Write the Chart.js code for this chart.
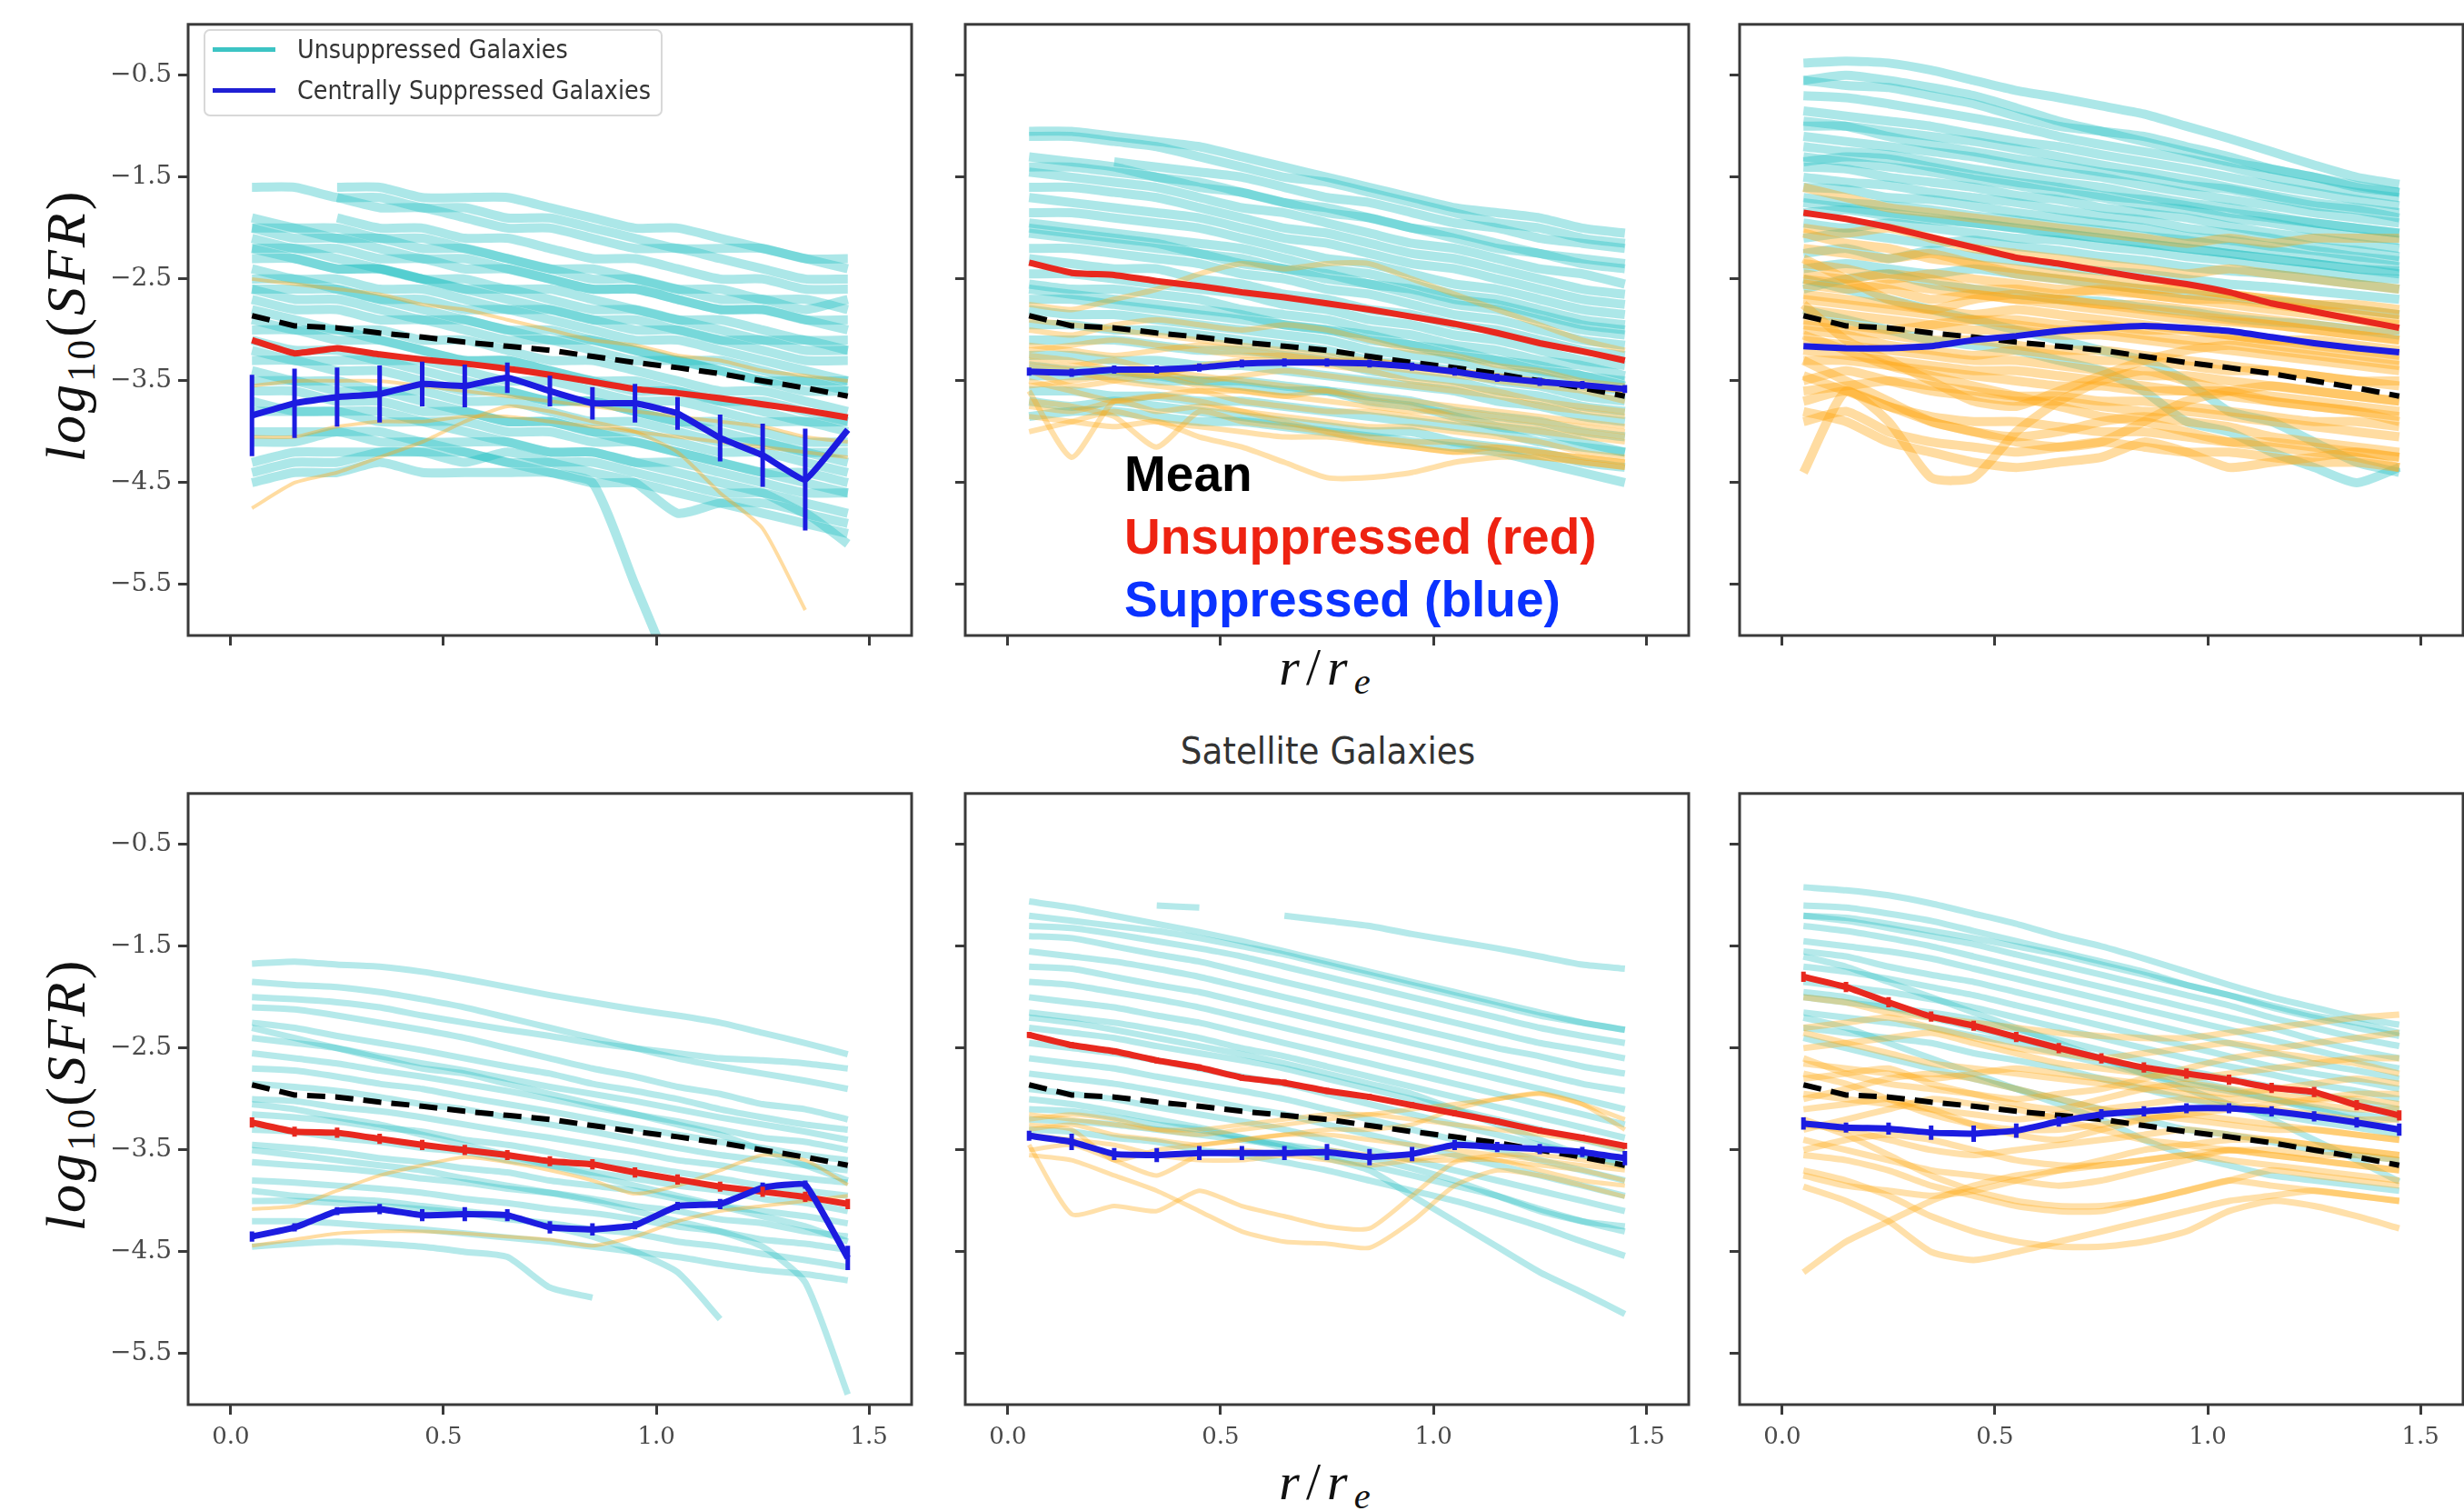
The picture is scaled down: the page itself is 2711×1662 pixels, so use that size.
<!DOCTYPE html>
<html>
<head>
<meta charset="utf-8">
<script src="https://cdn.jsdelivr.net/npm/chart.js@4.4.0/dist/chart.umd.min.js"></script>
<style>
  body { margin: 0; width: 2711px; height: 1662px; overflow: hidden; background: #fff; position: relative; }
  canvas { position: absolute; }
  .ylab { position: absolute; transform: translate(-50%, -50%) rotate(-90deg); font: 62px "Liberation Serif", serif; letter-spacing: 3px; white-space: nowrap; line-height: 1; color: #111; }
  .ylab sub, .xlab sub { font-size: 0.7em; line-height: 0; vertical-align: -0.25em; font-style: normal; }
  .xlab { position: absolute; transform: translateX(-50%); font: 58px "Liberation Serif", serif; letter-spacing: 7px; white-space: nowrap; line-height: 1; color: #111; }
  .title { position: absolute; transform: translateX(-50%) scaleX(0.91); font: 41px "DejaVu Sans", sans-serif; line-height: 1; color: #333; white-space: nowrap; }
  #legend { position: absolute; left: 224px; top: 32px; width: 505px; height: 96px; box-sizing: border-box; border: 2px solid #d8d8d8; border-radius: 7px; background: rgba(255,255,255,0.85); z-index: 2; }
  #legend .row { position: absolute; left: 0; height: 40px; display: flex; align-items: center; white-space: nowrap; }
  #legend .swatch { display: inline-block; margin-left: 8px; width: 69px; height: 5px; }
  #legend .lt { display: inline-block; margin-left: 24px; font: 28px "DejaVu Sans", sans-serif; color: #333; transform: scaleX(0.91); transform-origin: left center; }
  #note { position: absolute; left: 1237px; top: 487px; font: bold 55px "Liberation Sans", Arial, sans-serif; line-height: 69px; z-index: 2; white-space: nowrap; }
</style>
</head>
<body>

<div class="ylab" style="left:72px; top:358px"><i>log</i><sub>10</sub>(<i>SFR</i>)</div>
<div class="ylab" style="left:72px; top:1204px"><i>log</i><sub>10</sub>(<i>SFR</i>)</div>
<div class="xlab" style="left:1461px; top:705px"><i>r</i>/<i>r</i><sub><i>e</i></sub></div>
<div class="xlab" style="left:1461px; top:1601px"><i>r</i>/<i>r</i><sub><i>e</i></sub></div>
<div class="title" style="left:1461px; top:806px">Satellite Galaxies</div>

<div id="legend">
  <div class="row" style="top:0px"><span class="swatch" style="background:#3cc4c4"></span><span class="lt">Unsuppressed Galaxies</span></div>
  <div class="row" style="top:45px"><span class="swatch" style="background:#2020d4"></span><span class="lt">Centrally Suppressed Galaxies</span></div>
</div>

<div id="note">
  <div style="color:#000">Mean</div>
  <div style="color:#ee2211">Unsuppressed (red)</div>
  <div style="color:#0a32ff">Suppressed (blue)</div>
</div>

<script>
// radial bins (r / r_e) shared by every profile
const radii = [0.05, 0.15, 0.25, 0.35, 0.45, 0.55, 0.65, 0.75, 0.85, 0.95, 1.05, 1.15, 1.25, 1.35, 1.45];
const xTicks = [0.0, 0.5, 1.0, 1.5];
const yTicks = [-0.5, -1.5, -2.5, -3.5, -4.5, -5.5];

// overall mean profile (dashed, same in every panel)
const meanProfile = [-2.86, -2.96, -2.98, -3.03, -3.07, -3.12, -3.16, -3.20, -3.26, -3.32, -3.37, -3.43, -3.50, -3.57, -3.65];

// ---- top left ----
const topLeftRed = [-3.10, -3.23, -3.18, -3.24, -3.29, -3.33, -3.38, -3.44, -3.51, -3.58, -3.62, -3.67, -3.73, -3.79, -3.86];
const topLeftBlue = [-3.84, -3.72, -3.66, -3.63, -3.53, -3.55, -3.47, -3.60, -3.72, -3.72, -3.82, -4.06, -4.23, -4.47, -3.98];
const topLeftBlueErr = [0.40, 0.34, 0.29, 0.28, 0.22, 0.21, 0.15, 0.15, 0.16, 0.19, 0.16, 0.23, 0.31, 0.50, 0];
const topLeftCyan = [
  [-1.6,-1.6,-1.7,-1.7,-1.8,-1.8,-1.9,-1.9,-2.0,-2.1,-2.2,-2.2,-2.2,-2.3,-2.3],
  [null,null,-1.6,-1.6,-1.7,-1.7,-1.7,-1.8,-1.9,-2.0,-2.0,-2.1,-2.2,-2.3,-2.4],
  [null,null,-1.7,-1.8,-1.8,-1.9,-2.0,-2.0,-2.1,-2.2,-2.2,-2.3,-2.4,-2.5,-2.5],
  [null,null,-1.9,-2.0,-2.0,-2.1,-2.1,-2.2,-2.3,-2.3,-2.4,-2.5,-2.5,-2.6,-2.6],
  [-1.9,-2.0,-2.1,-2.1,-2.2,-2.2,-2.3,-2.4,-2.5,-2.5,-2.6,-2.7,-2.7,-2.8,-2.7],
  [-2.0,-2.0,-2.0,-2.1,-2.1,-2.2,-2.3,-2.4,-2.4,-2.5,-2.6,-2.6,-2.7,-2.7,-2.8],
  [-2.0,-2.1,-2.1,-2.2,-2.3,-2.3,-2.4,-2.5,-2.6,-2.6,-2.7,-2.8,-2.8,-2.9,-3.0],
  [-2.1,-2.2,-2.2,-2.3,-2.3,-2.4,-2.4,-2.5,-2.6,-2.6,-2.7,-2.8,-2.8,-2.9,-2.9],
  [-2.2,-2.2,-2.3,-2.4,-2.5,-2.5,-2.6,-2.6,-2.7,-2.8,-2.9,-2.9,-3.0,-3.1,-3.1],
  [-2.2,-2.3,-2.4,-2.4,-2.5,-2.6,-2.7,-2.8,-2.9,-2.9,-3.0,-3.1,-3.1,-3.2,-3.2],
  [-2.3,-2.3,-2.4,-2.4,-2.5,-2.6,-2.6,-2.7,-2.8,-2.8,-2.9,-3.0,-3.1,-3.1,-3.2],
  [-2.4,-2.5,-2.5,-2.6,-2.6,-2.7,-2.8,-2.8,-2.9,-3.0,-3.0,-3.1,-3.2,-3.3,-3.3],
  [-2.5,-2.5,-2.6,-2.7,-2.7,-2.8,-2.8,-2.9,-3.0,-3.1,-3.1,-3.2,-3.3,-3.4,-3.5],
  [-2.6,-2.6,-2.6,-2.7,-2.8,-2.9,-3.0,-3.1,-3.1,-3.2,-3.3,-3.4,-3.5,-3.5,-3.6],
  [-2.6,-2.7,-2.7,-2.8,-2.9,-2.9,-3.0,-3.0,-3.1,-3.2,-3.3,-3.3,-3.4,-3.5,-3.5],
  [-2.7,-2.8,-2.8,-2.9,-2.9,-3.0,-3.1,-3.1,-3.2,-3.3,-3.3,-3.4,-3.5,-3.6,-3.6],
  [-2.8,-2.9,-3.0,-3.0,-3.1,-3.1,-3.2,-3.3,-3.3,-3.4,-3.5,-3.6,-3.6,-3.7,-3.8],
  [-2.9,-3.0,-3.0,-3.1,-3.2,-3.3,-3.3,-3.4,-3.5,-3.6,-3.6,-3.7,-3.8,-3.9,-3.9],
  [-3.0,-3.0,-3.1,-3.1,-3.2,-3.3,-3.3,-3.4,-3.5,-3.5,-3.6,-3.7,-3.7,-3.8,-3.9],
  [-3.1,-3.2,-3.2,-3.3,-3.3,-3.4,-3.5,-3.5,-3.6,-3.7,-3.7,-3.8,-3.9,-3.9,-4.0],
  [-3.2,-3.3,-3.3,-3.3,-3.4,-3.5,-3.6,-3.7,-3.7,-3.8,-3.9,-4.0,-4.1,-4.2,-4.2],
  [-3.3,-3.3,-3.4,-3.4,-3.5,-3.6,-3.6,-3.7,-3.7,-3.8,-3.9,-3.9,-4.0,-4.1,-4.1],
  [-3.4,-3.5,-3.5,-3.6,-3.6,-3.7,-3.7,-3.8,-3.9,-3.9,-4.0,-4.1,-4.1,-4.2,-4.3],
  [-3.5,-3.5,-3.6,-3.6,-3.7,-3.8,-3.9,-3.9,-4.0,-4.1,-4.2,-4.3,-4.4,-4.5,-4.6],
  [-3.6,-3.6,-3.7,-3.7,-3.8,-3.8,-3.9,-3.9,-4.0,-4.0,-4.1,-4.2,-4.2,-4.3,-4.4],
  [-3.7,-3.8,-3.8,-3.8,-3.9,-4.0,-4.1,-4.2,-4.2,-4.3,-4.4,-4.5,-4.6,-4.8,-4.9],
  [-3.8,-3.8,-3.8,-3.9,-3.9,-3.9,-4.0,-4.0,-4.1,-4.1,-4.2,-4.3,-4.4,-4.4,-4.5],
  [-4.0,-4.0,-4.0,-4.0,-4.1,-4.1,-4.1,-4.2,-4.2,-4.3,-4.3,-4.4,-4.5,-4.6,-4.6],
  [-4.1,-4.1,-4.0,-4.1,-4.1,-4.2,-4.3,-4.4,-4.5,-5.5,-6.5,null,null,null,null],
  [-4.3,-4.2,-4.2,-4.2,-4.2,-4.2,-4.3,-4.3,-4.3,-4.4,-4.5,-4.6,-4.6,-4.7,-4.8],
  [-4.4,-4.3,-4.3,-4.2,-4.2,-4.3,-4.2,-4.3,-4.4,-4.5,-4.8,-4.7,-4.7,-4.8,-5.1],
  [-4.5,-4.4,-4.4,-4.3,-4.4,-4.4,-4.4,-4.4,-4.5,-4.5,-4.6,-4.7,-4.8,-4.9,-5.0]
];
const topLeftOrange = [
  [-4.75,-4.5,-4.4,-4.25,-4.1,-3.9,-3.75,-3.8,-3.9,-4.0,-4.2,-4.6,-4.95,-5.75,null],
  [-2.5,-2.55,-2.6,-2.65,-2.75,-2.8,-2.9,-3.0,-3.1,-3.15,-3.25,-3.3,-3.4,-3.45,-3.5],
  [-3.55,-3.5,-3.5,-3.5,-3.55,-3.6,-3.65,-3.7,-3.75,-3.8,-3.85,-3.9,-3.95,-4.05,-4.1],
  [-4.05,-4.05,-3.95,-3.9,-3.9,-3.85,-3.85,-3.9,-3.95,-4.0,-4.05,-4.1,-4.15,-4.2,-4.25]
];

// ---- top middle ----
const topMidRed = [-2.34, -2.44, -2.46, -2.52, -2.57, -2.63, -2.68, -2.74, -2.80, -2.87, -2.94, -3.03, -3.13, -3.21, -3.30];
const topMidBlue = [-3.41, -3.42, -3.39, -3.39, -3.37, -3.33, -3.32, -3.32, -3.33, -3.36, -3.41, -3.47, -3.51, -3.54, -3.58];
const topMidBlueErr = [0.04, 0.04, 0.04, 0.04, 0.04, 0.04, 0.04, 0.04, 0.04, 0.04, 0.04, 0.04, 0.04, 0.04, 0.04];
const topMidCyan = [
  [-1.05,-1.05,-1.1,-1.15,-1.2,-1.3,-1.4,-1.5,-1.6,-1.7,-1.8,-1.85,-1.9,-2.0,-2.05],
  [-1.1,-1.1,-1.15,-1.2,-1.3,-1.4,-1.5,-1.55,-1.65,-1.75,-1.85,-1.95,-2.0,-2.1,-2.15],
  [null,null,-1.35,-1.4,-1.45,-1.5,-1.6,-1.7,-1.75,-1.85,-1.95,-2.0,-2.1,-2.15,-2.2],
  [-1.3,-1.35,-1.4,-1.5,-1.55,-1.65,-1.75,-1.8,-1.9,-2.0,-2.05,-2.15,-2.25,-2.3,-2.35],
  [-1.4,-1.4,-1.45,-1.5,-1.6,-1.65,-1.75,-1.85,-1.9,-2.0,-2.1,-2.2,-2.25,-2.35,-2.4],
  [-1.45,-1.5,-1.55,-1.6,-1.7,-1.8,-1.85,-1.95,-2.05,-2.15,-2.2,-2.3,-2.4,-2.45,-2.55],
  [-1.6,-1.6,-1.65,-1.7,-1.8,-1.9,-2.0,-2.05,-2.15,-2.25,-2.3,-2.4,-2.5,-2.6,-2.65],
  [-1.7,-1.75,-1.8,-1.85,-1.9,-2.0,-2.1,-2.15,-2.25,-2.35,-2.4,-2.5,-2.6,-2.7,-2.75],
  [-1.85,-1.85,-1.9,-1.95,-2.0,-2.1,-2.2,-2.3,-2.35,-2.45,-2.55,-2.6,-2.7,-2.8,-2.85],
  [-1.95,-2.0,-2.05,-2.1,-2.15,-2.2,-2.3,-2.4,-2.45,-2.55,-2.65,-2.7,-2.8,-2.9,-2.95],
  [-2.0,-2.05,-2.1,-2.15,-2.25,-2.3,-2.4,-2.45,-2.55,-2.6,-2.7,-2.75,-2.85,-2.95,-3.0],
  [-2.05,-2.1,-2.15,-2.2,-2.25,-2.35,-2.4,-2.5,-2.55,-2.65,-2.75,-2.8,-2.9,-3.0,-3.05],
  [-2.2,-2.2,-2.25,-2.3,-2.35,-2.45,-2.5,-2.6,-2.65,-2.75,-2.85,-2.9,-3.0,-3.1,-3.15],
  [-2.3,-2.35,-2.4,-2.4,-2.5,-2.55,-2.65,-2.7,-2.8,-2.85,-2.95,-3.0,-3.1,-3.2,-3.25],
  [-2.45,-2.45,-2.5,-2.55,-2.6,-2.65,-2.75,-2.8,-2.9,-2.95,-3.05,-3.1,-3.2,-3.3,-3.35],
  [-2.55,-2.6,-2.6,-2.65,-2.7,-2.8,-2.85,-2.9,-3.0,-3.05,-3.15,-3.2,-3.3,-3.35,-3.45],
  [-2.6,-2.65,-2.7,-2.75,-2.8,-2.85,-2.95,-3.0,-3.05,-3.15,-3.2,-3.3,-3.35,-3.45,-3.5],
  [-2.7,-2.7,-2.75,-2.8,-2.85,-2.9,-2.95,-3.0,-3.1,-3.15,-3.25,-3.3,-3.4,-3.45,-3.55],
  [-2.8,-2.85,-2.85,-2.9,-2.95,-3.0,-3.05,-3.1,-3.2,-3.25,-3.3,-3.4,-3.45,-3.55,-3.6],
  [-2.95,-2.95,-3.0,-3.0,-3.05,-3.1,-3.15,-3.2,-3.3,-3.35,-3.4,-3.5,-3.55,-3.65,-3.7],
  [-3.1,-3.1,-3.1,-3.15,-3.2,-3.2,-3.25,-3.3,-3.4,-3.45,-3.5,-3.6,-3.65,-3.75,-3.8],
  [-3.25,-3.25,-3.3,-3.3,-3.35,-3.35,-3.4,-3.45,-3.5,-3.55,-3.6,-3.7,-3.75,-3.85,-3.9],
  [-3.35,-3.4,-3.4,-3.45,-3.5,-3.5,-3.55,-3.6,-3.7,-3.75,-3.85,-3.95,-4.0,-4.1,-4.2],
  [-3.45,-3.45,-3.45,-3.5,-3.5,-3.55,-3.6,-3.6,-3.65,-3.7,-3.8,-3.85,-3.9,-4.0,-4.05],
  [-3.6,-3.6,-3.65,-3.65,-3.7,-3.7,-3.75,-3.8,-3.85,-3.9,-3.95,-4.0,-4.1,-4.15,-4.2],
  [-3.7,-3.75,-3.7,-3.75,-3.8,-3.85,-3.9,-3.95,-4.0,-4.0,-4.1,-4.15,-4.2,-4.3,-4.35],
  [-3.85,-3.8,-3.8,-3.85,-3.9,-3.9,-3.95,-4.0,-4.05,-4.1,-4.15,-4.2,-4.3,-4.4,-4.5]
];
const topMidOrange = [
  [-2.75,-2.8,-2.7,-2.6,-2.45,-2.35,-2.4,-2.35,-2.35,-2.5,-2.65,-2.8,-2.95,-3.1,-3.2],
  [-2.9,-2.95,-3.0,-3.05,-3.1,-3.15,-3.2,-3.25,-3.3,-3.35,-3.4,-3.45,-3.5,-3.55,-3.6],
  [-3.0,-3.05,-2.95,-2.9,-2.95,-3.0,-2.95,-3.0,-3.1,-3.2,-3.25,-3.35,-3.4,-3.5,-3.55],
  [-3.15,-3.2,-3.25,-3.2,-3.15,-3.2,-3.25,-3.3,-3.35,-3.4,-3.45,-3.5,-3.55,-3.6,-3.7],
  [-3.2,-3.15,-3.1,-3.15,-3.2,-3.25,-3.25,-3.3,-3.3,-3.35,-3.4,-3.45,-3.5,-3.55,-3.6],
  [-3.25,-3.3,-3.4,-3.45,-3.35,-3.3,-3.3,-3.35,-3.4,-3.5,-3.55,-3.6,-3.7,-3.75,-3.8],
  [-3.3,-3.35,-3.3,-3.4,-3.5,-3.45,-3.4,-3.45,-3.5,-3.55,-3.6,-3.65,-3.75,-3.8,-3.85],
  [-3.35,-3.4,-3.5,-3.55,-3.6,-3.6,-3.65,-3.7,-3.75,-3.8,-3.8,-3.85,-3.9,-3.95,-4.0],
  [-3.4,-3.55,-3.5,-3.45,-3.55,-3.6,-3.65,-3.6,-3.65,-3.7,-3.75,-3.8,-3.85,-3.9,-3.95],
  [-3.5,-3.6,-3.7,-3.65,-3.6,-3.7,-3.75,-3.8,-3.8,-3.85,-3.9,-3.95,-4.0,-4.05,-4.1],
  [-3.55,-3.5,-3.45,-3.4,-3.45,-3.5,-3.55,-3.6,-3.7,-3.75,-3.85,-3.9,-3.95,-4.0,-4.05],
  [-3.6,-4.25,-3.7,-3.8,-3.75,-3.8,-3.85,-3.9,-3.95,-3.95,-4.0,-4.05,-4.1,-4.2,-4.25],
  [-3.7,-3.75,-3.85,-4.15,-3.8,-3.9,-3.95,-4.0,-4.05,-4.1,-4.1,-4.15,-4.2,-4.25,-4.3],
  [-3.75,-3.8,-3.7,-3.65,-3.7,-3.8,-3.9,-4.0,-4.1,-4.15,-4.2,-4.15,-4.2,-4.25,-4.3],
  [-3.85,-3.9,-3.95,-3.9,-4.05,-4.15,-4.3,-4.45,-4.45,-4.4,-4.3,-4.25,-4.25,-4.3,-4.35],
  [-4.0,-3.9,-3.8,-3.9,-3.95,-4.0,-4.05,-4.05,-4.1,-4.15,-4.2,-4.2,-4.25,-4.3,-4.35]
];

// ---- top right ----
const topRightRed = [-1.85, -1.91, -1.99, -2.09, -2.19, -2.29, -2.35, -2.42, -2.49, -2.55, -2.63, -2.74, -2.82, -2.90, -2.98];
const topRightBlue = [-3.16, -3.18, -3.18, -3.16, -3.10, -3.06, -3.01, -2.98, -2.96, -2.98, -3.01, -3.07, -3.13, -3.18, -3.22];
const topRightCyan = [
  [-0.38,-0.36,-0.38,-0.45,-0.55,-0.65,-0.72,-0.8,-0.88,-1.0,-1.12,-1.25,-1.38,-1.5,-1.57],
  [-0.55,-0.5,-0.55,-0.62,-0.7,-0.82,-0.95,-1.05,-1.15,-1.25,-1.35,-1.42,-1.5,-1.6,-1.65],
  [-0.55,-0.6,-0.62,-0.7,-0.78,-0.9,-1.0,-1.05,-1.1,-1.2,-1.3,-1.42,-1.5,-1.58,-1.65],
  [-0.7,-0.72,-0.78,-0.85,-0.92,-1.0,-1.1,-1.18,-1.25,-1.32,-1.4,-1.5,-1.58,-1.65,-1.7],
  [-0.85,-0.9,-0.95,-1.0,-1.08,-1.15,-1.2,-1.28,-1.35,-1.42,-1.5,-1.58,-1.65,-1.72,-1.78],
  [-0.95,-1.0,-1.1,-1.18,-1.25,-1.32,-1.38,-1.45,-1.5,-1.58,-1.62,-1.7,-1.78,-1.82,-1.9],
  [-1.0,-1.0,-1.05,-1.1,-1.15,-1.22,-1.3,-1.38,-1.45,-1.52,-1.6,-1.68,-1.75,-1.8,-1.85],
  [-1.1,-1.15,-1.2,-1.25,-1.3,-1.38,-1.45,-1.5,-1.58,-1.65,-1.72,-1.78,-1.85,-1.9,-1.95],
  [-1.2,-1.25,-1.28,-1.35,-1.42,-1.48,-1.55,-1.6,-1.68,-1.75,-1.8,-1.88,-1.95,-2.0,-2.05],
  [-1.3,-1.35,-1.4,-1.45,-1.52,-1.58,-1.65,-1.7,-1.78,-1.82,-1.9,-1.95,-2.02,-2.08,-2.12],
  [-1.35,-1.3,-1.32,-1.4,-1.48,-1.55,-1.6,-1.68,-1.72,-1.78,-1.85,-1.9,-1.95,-2.0,-2.05],
  [-1.4,-1.42,-1.5,-1.55,-1.6,-1.68,-1.72,-1.8,-1.85,-1.9,-1.98,-2.05,-2.1,-2.15,-2.2],
  [-1.5,-1.55,-1.58,-1.65,-1.7,-1.75,-1.82,-1.88,-1.92,-2.0,-2.05,-2.1,-2.18,-2.22,-2.28],
  [-1.6,-1.62,-1.7,-1.72,-1.78,-1.85,-1.9,-1.95,-2.0,-2.08,-2.12,-2.18,-2.22,-2.28,-2.32],
  [-1.7,-1.75,-1.78,-1.82,-1.88,-1.92,-1.98,-2.02,-2.08,-2.12,-2.18,-2.22,-2.28,-2.32,-2.38],
  [-1.75,-1.8,-1.85,-1.9,-1.95,-2.0,-2.05,-2.1,-2.15,-2.2,-2.25,-2.3,-2.35,-2.4,-2.42],
  [-1.85,-1.82,-1.88,-1.92,-1.95,-2.0,-2.05,-2.1,-2.15,-2.2,-2.25,-2.3,-2.35,-2.4,-2.45],
  [-1.95,-2.0,-1.95,-2.0,-2.05,-2.1,-2.12,-2.18,-2.22,-2.28,-2.32,-2.38,-2.42,-2.48,-2.5],
  [-2.1,-2.05,-2.1,-2.15,-2.12,-2.18,-2.22,-2.28,-2.32,-2.38,-2.42,-2.45,-2.5,-2.55,-2.6],
  [-2.25,-2.2,-2.3,-2.22,-2.28,-2.32,-2.38,-2.42,-2.45,-2.5,-2.55,-2.58,-2.62,-2.66,-2.7],
  [-2.4,-2.35,-2.4,-2.45,-2.4,-2.45,-2.5,-2.55,-2.6,-2.65,-2.68,-2.72,-2.75,-2.8,-2.85],
  [-2.6,-2.5,-2.45,-2.55,-2.6,-2.65,-2.7,-2.72,-2.78,-2.82,-2.88,-2.92,-2.95,-3.0,-3.05],
  [-2.5,-2.6,-2.7,-2.8,-2.9,-3.0,-3.1,-3.2,-3.3,-3.5,-3.8,-3.9,-4.1,-4.3,-4.4],
  [-2.8,-2.9,-3.0,-3.1,-3.15,-3.2,-3.3,-3.4,-3.6,-3.9,-4.0,-4.2,-4.35,-4.5,-4.35]
];
const topRightOrange = [
  [-1.6,-1.7,-1.8,-1.85,-1.9,-1.95,-2.0,-2.05,-2.1,-2.15,-2.1,-2.15,-2.1,-2.1,-2.1],
  [-2.0,-2.05,-2.0,-2.1,-2.2,-2.25,-2.3,-2.35,-2.4,-2.45,-2.4,-2.45,-2.5,-2.55,-2.6],
  [-2.05,-2.15,-2.2,-2.3,-2.35,-2.45,-2.5,-2.55,-2.6,-2.6,-2.65,-2.7,-2.75,-2.75,-2.8],
  [-2.2,-2.25,-2.3,-2.25,-2.35,-2.4,-2.45,-2.5,-2.55,-2.6,-2.65,-2.7,-2.75,-2.8,-2.85],
  [-2.3,-2.5,-2.7,-2.8,-2.7,-2.65,-2.7,-2.75,-2.8,-2.85,-2.9,-2.95,-3.0,-3.05,-3.1],
  [-2.35,-2.4,-2.5,-2.45,-2.5,-2.55,-2.6,-2.62,-2.65,-2.7,-2.75,-2.8,-2.85,-2.9,-2.95],
  [-2.45,-2.5,-2.45,-2.5,-2.6,-2.6,-2.65,-2.6,-2.65,-2.7,-2.7,-2.75,-2.8,-2.85,-2.9],
  [-2.5,-2.55,-2.6,-2.7,-2.65,-2.7,-2.75,-2.8,-2.85,-2.9,-2.92,-2.95,-3.0,-3.05,-3.1],
  [-2.55,-2.6,-2.55,-2.6,-2.65,-2.7,-2.7,-2.75,-2.75,-2.8,-2.85,-2.9,-2.95,-3.0,-3.0],
  [-2.65,-2.7,-2.75,-2.8,-2.85,-2.8,-2.85,-2.9,-2.95,-3.0,-3.05,-3.1,-3.15,-3.2,-3.25],
  [-2.7,-2.75,-2.8,-2.85,-2.9,-2.9,-2.95,-2.95,-3.0,-3.0,-3.05,-3.1,-3.1,-3.15,-3.2],
  [-2.75,-3.1,-3.3,-3.5,-3.7,-3.75,-3.6,-3.45,-3.3,-3.2,-3.15,-3.2,-3.25,-3.3,-3.35],
  [-2.8,-2.85,-2.9,-2.95,-3.0,-3.0,-3.05,-3.05,-3.1,-3.15,-3.2,-3.25,-3.3,-3.35,-3.4],
  [-2.9,-2.95,-3.0,-2.95,-2.9,-2.95,-3.0,-3.0,-3.05,-3.1,-3.1,-3.15,-3.2,-3.25,-3.3],
  [-2.95,-3.0,-3.05,-3.1,-3.1,-3.15,-3.2,-3.2,-3.25,-3.3,-3.35,-3.4,-3.45,-3.5,-3.55],
  [-3.0,-3.05,-3.15,-3.2,-3.25,-3.2,-3.25,-3.3,-3.3,-3.35,-3.4,-3.4,-3.45,-3.5,-3.5],
  [-3.05,-3.2,-3.35,-3.45,-3.55,-3.65,-3.75,-3.85,-3.9,-4.0,-4.1,-4.15,-4.2,-4.25,-4.35],
  [-3.1,-3.15,-3.2,-3.25,-3.3,-3.3,-3.35,-3.4,-3.45,-3.45,-3.5,-3.55,-3.6,-3.65,-3.7],
  [-3.2,-3.25,-3.3,-3.35,-3.4,-3.4,-3.45,-3.5,-3.55,-3.6,-3.6,-3.65,-3.7,-3.75,-3.8],
  [-3.3,-3.3,-3.35,-3.4,-3.45,-3.5,-3.55,-3.55,-3.6,-3.6,-3.65,-3.7,-3.75,-3.8,-3.85],
  [-3.3,-3.5,-3.7,-3.9,-4.0,-4.1,-4.15,-4.1,-3.9,-3.7,-3.6,-3.55,-3.6,-3.65,-3.7],
  [-3.45,-3.6,-3.75,-3.9,-4.0,-4.05,-4.0,-3.9,-3.85,-3.9,-3.95,-4.05,-4.1,-4.15,-4.2],
  [-3.5,-3.4,-3.5,-3.6,-3.65,-3.7,-3.7,-3.75,-3.8,-3.8,-3.85,-3.9,-3.95,-4.0,-4.05],
  [-3.6,-3.55,-3.5,-3.55,-3.6,-3.65,-3.65,-3.7,-3.7,-3.75,-3.8,-3.85,-3.9,-3.9,-3.95],
  [-3.7,-3.6,-3.75,-3.85,-3.9,-3.9,-3.95,-4.0,-4.0,-4.05,-4.1,-4.1,-4.15,-4.2,-4.25],
  [-3.8,-3.9,-4.1,-4.2,-4.3,-4.35,-4.3,-4.25,-4.1,-4.2,-4.35,-4.3,-4.25,-4.2,-4.25],
  [-3.9,-3.8,-4.0,-4.1,-4.15,-4.2,-4.15,-4.1,-4.15,-4.2,-4.2,-4.25,-4.3,-4.3,-4.35],
  [-4.4,-3.6,-3.9,-4.45,-4.45,-4.0,-3.7,-3.5,-3.4,-3.5,-3.6,-3.7,-3.75,-3.8,-3.9]
];

// ---- bottom left ----
const bottomLeftRed = [-3.23, -3.32, -3.33, -3.39, -3.45, -3.50, -3.55, -3.61, -3.64, -3.72, -3.79, -3.86, -3.91, -3.96, -4.03];
const bottomLeftRedErr = [0.05, 0.05, 0.05, 0.05, 0.05, 0.05, 0.05, 0.05, 0.05, 0.05, 0.05, 0.05, 0.05, 0.05, 0.05];
const bottomLeftBlue = [-4.35, -4.26, -4.10, -4.08, -4.14, -4.13, -4.14, -4.26, -4.28, -4.24, -4.05, -4.03, -3.87, -3.84, -4.56];
const bottomLeftBlueErr = [0.05, 0.04, 0.04, 0.05, 0.06, 0.07, 0.06, 0.06, 0.06, 0.04, 0.04, 0.05, 0.05, 0.04, 0.12];
const bottomLeftCyan = [
  [-1.67,-1.65,-1.68,-1.7,-1.75,-1.82,-1.9,-1.98,-2.05,-2.12,-2.18,-2.25,-2.35,-2.45,-2.56],
  [-1.85,-1.88,-1.9,-1.95,-2.02,-2.1,-2.2,-2.3,-2.4,-2.5,-2.6,-2.68,-2.75,-2.82,-2.9],
  [-2.0,-2.02,-2.05,-2.1,-2.18,-2.25,-2.32,-2.38,-2.45,-2.5,-2.55,-2.6,-2.62,-2.65,-2.7],
  [-2.1,-2.12,-2.18,-2.25,-2.32,-2.4,-2.5,-2.6,-2.7,-2.78,-2.88,-2.95,-3.05,-3.1,-3.2],
  [-2.25,-2.3,-2.38,-2.45,-2.52,-2.6,-2.68,-2.75,-2.85,-2.92,-3.0,-3.1,-3.18,-3.25,-3.3],
  [-2.3,-2.4,-2.5,-2.6,-2.7,-2.75,-2.85,-2.95,-3.05,-3.15,-3.25,-3.35,-3.5,-3.65,-3.8],
  [-2.4,-2.45,-2.5,-2.58,-2.65,-2.72,-2.8,-2.88,-2.95,-3.02,-3.1,-3.18,-3.25,-3.32,-3.4],
  [-2.55,-2.6,-2.65,-2.72,-2.78,-2.85,-2.92,-3.0,-3.08,-3.15,-3.22,-3.3,-3.38,-3.42,-3.5],
  [-2.7,-2.72,-2.78,-2.85,-2.9,-2.98,-3.05,-3.12,-3.2,-3.28,-3.35,-3.42,-3.48,-3.55,-3.6],
  [-2.85,-2.88,-2.92,-2.98,-3.05,-3.1,-3.18,-3.25,-3.32,-3.4,-3.48,-3.55,-3.6,-3.65,-3.7],
  [-3.0,-3.02,-3.08,-3.12,-3.18,-3.25,-3.32,-3.38,-3.45,-3.52,-3.6,-3.65,-3.72,-3.78,-3.82],
  [-3.05,-3.1,-3.18,-3.25,-3.35,-3.45,-3.55,-3.65,-3.75,-3.85,-3.95,-4.05,-4.15,-4.25,-4.4],
  [-3.15,-3.18,-3.22,-3.28,-3.32,-3.4,-3.45,-3.52,-3.6,-3.65,-3.72,-3.78,-3.85,-3.9,-3.95],
  [-3.3,-3.32,-3.38,-3.42,-3.48,-3.52,-3.6,-3.65,-3.72,-3.78,-3.85,-3.9,-3.98,-4.02,-4.1],
  [-3.45,-3.48,-3.52,-3.58,-3.62,-3.68,-3.72,-3.8,-3.85,-3.9,-3.98,-4.05,-4.1,-4.15,-4.22],
  [-3.5,-3.55,-3.6,-3.65,-3.7,-3.78,-3.85,-3.92,-4.0,-4.1,-4.2,-4.3,-4.45,-4.8,-5.9],
  [-3.62,-3.65,-3.68,-3.72,-3.78,-3.82,-3.88,-3.92,-3.98,-4.05,-4.1,-4.18,-4.22,-4.3,-4.35],
  [-3.8,-3.82,-3.85,-3.88,-3.92,-3.98,-4.02,-4.08,-4.12,-4.18,-4.25,-4.3,-4.38,-4.42,-4.48],
  [-3.9,-3.95,-3.98,-4.0,-4.05,-4.1,-4.15,-4.25,-4.35,-4.5,-4.7,-5.16,null,null,null],
  [-4.0,-4.0,-4.02,-4.05,-4.08,-4.12,-4.18,-4.22,-4.28,-4.32,-4.4,-4.45,-4.52,-4.58,-4.65],
  [-4.2,-4.2,-4.22,-4.25,-4.28,-4.32,-4.36,-4.4,-4.45,-4.5,-4.55,-4.62,-4.68,-4.72,-4.78],
  [-4.45,-4.42,-4.4,-4.42,-4.45,-4.5,-4.55,-4.85,-4.95,null,null,null,null,null,null]
];
const bottomLeftOrange = [
  [-4.08,-4.05,-3.9,-3.75,-3.65,-3.57,-3.62,-3.7,-3.8,-3.93,-3.85,-3.7,-3.55,-3.6,-3.84],
  [-4.44,-4.38,-4.32,-4.3,-4.3,-4.32,-4.35,-4.38,-4.44,-4.35,-4.2,-4.1,-4.05,-4.0,-3.95]
];

// ---- bottom middle: satellite galaxies ----
const bottomMidRed = [-2.37, -2.47, -2.53, -2.62, -2.69, -2.79, -2.84, -2.92, -2.98, -3.06, -3.14, -3.22, -3.31, -3.38, -3.46];
const bottomMidRedErr = [0.03, 0.03, 0.03, 0.03, 0.03, 0.03, 0.03, 0.03, 0.03, 0.03, 0.03, 0.03, 0.03, 0.03, 0.03];
const bottomMidBlue = [-3.36, -3.42, -3.54, -3.55, -3.53, -3.53, -3.53, -3.52, -3.57, -3.54, -3.45, -3.47, -3.49, -3.52, -3.58];
const bottomMidBlueErr = [0.05, 0.08, 0.06, 0.07, 0.07, 0.07, 0.07, 0.08, 0.08, 0.07, 0.05, 0.05, 0.05, 0.05, 0.07];
const bottomMidCyan = [
  [-1.06,-1.12,-1.2,-1.28,-1.36,-1.45,-1.55,-1.65,-1.75,-1.85,-1.95,-2.05,-2.15,-2.25,-2.32],
  [null,null,null,null,null,null,-1.2,-1.25,-1.3,-1.38,-1.45,-1.52,-1.6,-1.68,-1.72],
  [null,null,null,-1.1,-1.12,null,null,null,null,null,null,null,null,null,null],
  [-1.2,-1.25,-1.3,-1.35,-1.42,-1.5,-1.58,-1.68,-1.78,-1.88,-1.98,-2.08,-2.18,-2.25,-2.32],
  [-1.3,-1.32,-1.38,-1.45,-1.52,-1.6,-1.7,-1.8,-1.9,-2.0,-2.1,-2.2,-2.3,-2.38,-2.45],
  [-1.4,-1.42,-1.5,-1.58,-1.65,-1.75,-1.85,-1.95,-2.05,-2.15,-2.25,-2.35,-2.45,-2.52,-2.6],
  [-1.55,-1.6,-1.65,-1.72,-1.8,-1.9,-2.0,-2.1,-2.2,-2.3,-2.4,-2.5,-2.58,-2.68,-2.75],
  [-1.7,-1.72,-1.8,-1.88,-1.95,-2.05,-2.15,-2.25,-2.35,-2.45,-2.55,-2.65,-2.75,-2.85,-2.92],
  [-1.85,-1.88,-1.95,-2.02,-2.1,-2.2,-2.3,-2.4,-2.5,-2.6,-2.7,-2.8,-2.9,-3.0,-3.1],
  [-2.0,-2.05,-2.1,-2.18,-2.25,-2.35,-2.45,-2.55,-2.65,-2.75,-2.85,-2.95,-3.05,-3.15,-3.25],
  [-2.15,-2.2,-2.25,-2.32,-2.4,-2.5,-2.58,-2.68,-2.78,-2.88,-2.98,-3.08,-3.18,-3.28,-3.38],
  [-2.2,-2.25,-2.32,-2.4,-2.48,-2.56,-2.65,-2.75,-2.85,-2.95,-3.1,-3.25,-3.4,-3.55,-3.65],
  [-2.3,-2.35,-2.4,-2.48,-2.55,-2.62,-2.7,-2.8,-2.9,-3.0,-3.1,-3.2,-3.3,-3.4,-3.5],
  [-2.45,-2.5,-2.55,-2.62,-2.7,-2.78,-2.85,-2.95,-3.05,-3.15,-3.25,-3.35,-3.45,-3.55,-3.65],
  [-2.6,-2.65,-2.7,-2.78,-2.85,-2.92,-3.0,-3.1,-3.2,-3.3,-3.4,-3.5,-3.6,-3.7,-3.8],
  [-2.75,-2.8,-2.85,-2.92,-3.0,-3.08,-3.15,-3.25,-3.35,-3.45,-3.55,-3.65,-3.75,-3.85,-3.95],
  [-2.9,-2.95,-3.0,-3.08,-3.15,-3.22,-3.3,-3.4,-3.5,-3.6,-3.7,-3.8,-3.9,-4.0,-4.1],
  [-3.0,-3.05,-3.12,-3.2,-3.28,-3.38,-3.48,-3.58,-3.7,-3.95,-4.2,-4.45,-4.7,-4.9,-5.11],
  [-3.1,-3.12,-3.18,-3.25,-3.3,-3.38,-3.45,-3.55,-3.65,-3.75,-3.85,-3.95,-4.08,-4.2,-4.3],
  [-3.2,-3.22,-3.25,-3.3,-3.35,-3.4,-3.45,-3.5,-3.58,-3.68,-3.8,-3.95,-4.1,-4.2,-4.25],
  [-3.3,-3.32,-3.38,-3.42,-3.5,-3.55,-3.62,-3.7,-3.8,-3.9,-4.0,-4.12,-4.25,-4.4,-4.54]
];
const bottomMidOrange = [
  [-3.15,-3.2,-3.25,-3.3,-3.3,-3.25,-3.2,-3.15,-3.15,-3.2,-3.25,-3.3,-3.35,-3.4,-3.5],
  [-3.2,-3.15,-3.2,-3.3,-3.35,-3.3,-3.25,-3.2,-3.15,-3.1,-3.05,-3.0,-2.95,-3.05,-3.2],
  [-3.25,-3.3,-3.6,-3.5,-3.45,-3.4,-3.35,-3.3,-3.3,-3.25,-3.1,-3.0,-2.94,-3.05,-3.3],
  [-3.3,-3.25,-3.35,-3.4,-3.45,-3.4,-3.35,-3.35,-3.4,-3.45,-3.5,-3.55,-3.6,-3.65,-3.7],
  [-3.35,-3.4,-3.45,-3.55,-3.6,-3.6,-3.55,-3.5,-3.55,-3.6,-3.6,-3.55,-3.55,-3.6,-3.67],
  [-3.45,-4.13,-4.05,-4.1,-3.9,-4.05,-4.15,-4.25,-4.27,-3.95,-3.62,-3.6,-3.7,-3.8,-3.85],
  [-3.5,-3.45,-3.6,-3.75,-3.55,-3.5,-3.55,-3.6,-3.65,-3.6,-3.55,-3.6,-3.65,-3.7,-3.8],
  [-3.55,-3.6,-3.75,-3.9,-4.1,-4.3,-4.4,-4.42,-4.46,-4.2,-3.85,-3.7,-3.75,-3.85,-3.96]
];

// ---- bottom right ----
const bottomRightRed = [-1.80, -1.90, -2.05, -2.19, -2.28, -2.39, -2.50, -2.60, -2.69, -2.75, -2.81, -2.89, -2.93, -3.06, -3.16];
const bottomRightRedErr = [0.05, 0.05, 0.05, 0.05, 0.05, 0.05, 0.05, 0.05, 0.05, 0.05, 0.05, 0.05, 0.05, 0.05, 0.05];
const bottomRightBlue = [-3.24, -3.28, -3.29, -3.33, -3.34, -3.31, -3.22, -3.15, -3.12, -3.09, -3.09, -3.12, -3.17, -3.23, -3.30];
const bottomRightBlueErr = [0.06, 0.05, 0.06, 0.07, 0.08, 0.07, 0.05, 0.05, 0.05, 0.05, 0.05, 0.05, 0.05, 0.05, 0.06];
const bottomRightCyan = [
  [-0.92,-0.95,-1.0,-1.08,-1.18,-1.28,-1.4,-1.5,-1.62,-1.75,-1.88,-2.0,-2.1,-2.2,-2.27],
  [-1.1,-1.12,-1.18,-1.25,-1.35,-1.45,-1.55,-1.65,-1.75,-1.88,-1.98,-2.1,-2.2,-2.3,-2.38],
  [-1.2,-1.22,-1.28,-1.35,-1.42,-1.5,-1.58,-1.68,-1.78,-1.88,-1.98,-2.08,-2.18,-2.25,-2.35],
  [-1.2,-1.25,-1.32,-1.4,-1.48,-1.58,-1.68,-1.78,-1.88,-1.98,-2.08,-2.2,-2.3,-2.4,-2.48],
  [-1.3,-1.35,-1.42,-1.5,-1.6,-1.7,-1.8,-1.9,-2.0,-2.1,-2.2,-2.3,-2.42,-2.52,-2.6],
  [-1.45,-1.5,-1.55,-1.62,-1.72,-1.82,-1.92,-2.02,-2.12,-2.22,-2.32,-2.42,-2.52,-2.62,-2.7],
  [-1.55,-1.6,-1.7,-1.78,-1.85,-1.95,-2.05,-2.15,-2.25,-2.35,-2.45,-2.55,-2.65,-2.72,-2.8],
  [-1.6,-1.7,-1.85,-2.0,-2.15,-2.3,-2.45,-2.6,-2.75,-2.9,-3.05,-3.2,-3.4,-3.6,-3.81],
  [-1.7,-1.75,-1.82,-1.9,-1.98,-2.08,-2.18,-2.28,-2.38,-2.48,-2.58,-2.68,-2.75,-2.82,-2.9],
  [-1.85,-1.9,-1.95,-2.02,-2.1,-2.2,-2.3,-2.4,-2.5,-2.6,-2.68,-2.76,-2.85,-2.92,-3.0],
  [-1.95,-2.0,-2.1,-2.2,-2.3,-2.4,-2.5,-2.6,-2.7,-2.8,-2.9,-3.0,-3.1,-3.2,-3.3],
  [-2.0,-2.05,-2.1,-2.15,-2.22,-2.32,-2.42,-2.52,-2.62,-2.72,-2.8,-2.88,-2.95,-3.02,-3.1],
  [-2.15,-2.2,-2.25,-2.3,-2.38,-2.45,-2.55,-2.65,-2.75,-2.85,-2.92,-3.0,-3.08,-3.15,-3.2],
  [-2.2,-2.3,-2.45,-2.6,-2.75,-2.9,-3.05,-3.2,-3.4,-3.55,-3.65,-3.75,-3.8,-3.85,-3.9],
  [-2.3,-2.35,-2.4,-2.45,-2.55,-2.62,-2.7,-2.8,-2.9,-3.0,-3.08,-3.15,-3.22,-3.28,-3.35],
  [-2.4,-2.5,-2.6,-2.7,-2.8,-2.9,-3.0,-3.1,-3.2,-3.3,-3.35,-3.42,-3.5,-3.55,-3.6]
];
const bottomRightOrange = [
  [-2.0,-2.05,-2.15,-2.2,-2.25,-2.3,-2.35,-2.38,-2.4,-2.4,-2.35,-2.3,-2.25,-2.2,-2.17],
  [-2.3,-2.25,-2.2,-2.3,-2.4,-2.5,-2.55,-2.6,-2.55,-2.5,-2.45,-2.5,-2.45,-2.4,-2.35],
  [-2.35,-2.45,-2.55,-2.65,-2.7,-2.75,-2.8,-2.85,-2.9,-2.95,-3.0,-3.0,-3.05,-3.1,-3.1],
  [-2.5,-2.45,-2.4,-2.35,-2.45,-2.55,-2.65,-2.7,-2.75,-2.8,-2.75,-2.7,-2.65,-2.6,-2.6],
  [-2.6,-2.75,-2.85,-2.9,-2.95,-3.0,-2.95,-2.9,-2.8,-2.7,-2.6,-2.55,-2.6,-2.65,-2.75],
  [-2.65,-2.7,-2.75,-2.8,-2.75,-2.7,-2.75,-2.8,-2.85,-2.9,-2.95,-2.9,-2.85,-2.8,-2.85],
  [-2.75,-2.85,-3.0,-3.15,-3.25,-3.3,-3.3,-3.25,-3.2,-3.15,-3.1,-3.05,-3.0,-2.95,-2.95],
  [-2.8,-2.75,-2.7,-2.85,-2.95,-3.05,-3.1,-3.0,-2.9,-2.85,-2.9,-2.95,-3.0,-3.0,-3.05],
  [-2.95,-3.0,-3.05,-3.1,-3.15,-3.2,-3.15,-3.1,-3.05,-3.0,-3.05,-3.1,-3.15,-3.2,-3.2],
  [-3.0,-2.9,-2.8,-2.75,-2.8,-2.9,-3.0,-3.1,-3.15,-3.2,-3.25,-3.3,-3.3,-3.35,-3.4],
  [-3.1,-3.05,-3.0,-3.1,-3.25,-3.35,-3.4,-3.3,-3.2,-3.15,-3.2,-3.25,-3.3,-3.35,-3.4],
  [-3.2,-3.35,-3.55,-3.75,-3.9,-4.0,-4.05,-4.05,-4.0,-3.9,-3.8,-3.7,-3.75,-3.8,-3.85],
  [-3.25,-3.3,-3.4,-3.5,-3.55,-3.5,-3.45,-3.4,-3.35,-3.3,-3.35,-3.4,-3.45,-3.5,-3.55],
  [-3.3,-3.2,-3.1,-3.0,-3.05,-3.1,-3.2,-3.3,-3.4,-3.45,-3.5,-3.5,-3.55,-3.55,-3.6],
  [-3.4,-3.5,-3.6,-3.7,-3.75,-3.8,-3.85,-3.8,-3.7,-3.6,-3.5,-3.55,-3.6,-3.65,-3.7],
  [-3.5,-3.4,-3.35,-3.4,-3.5,-3.6,-3.65,-3.65,-3.6,-3.55,-3.6,-3.65,-3.7,-3.75,-3.8],
  [-3.55,-3.6,-3.7,-3.85,-3.95,-4.05,-4.1,-4.1,-4.0,-3.9,-3.8,-3.85,-3.9,-3.95,-4.0],
  [-3.7,-3.8,-3.95,-4.15,-4.3,-4.4,-4.45,-4.45,-4.4,-4.3,-4.1,-4.0,-4.05,-4.15,-4.27],
  [-3.75,-3.85,-3.9,-3.95,-3.9,-3.8,-3.7,-3.6,-3.5,-3.45,-3.4,-3.4,-3.45,-3.5,-3.55],
  [-3.86,-4.0,-4.2,-4.5,-4.58,-4.5,-4.4,-4.3,-4.2,-4.1,-4.0,-3.95,-3.9,-3.95,-4.0],
  [-4.7,-4.4,-4.2,-4.0,-3.85,-3.75,-3.7,-3.65,-3.6,-3.55,-3.5,-3.55,-3.6,-3.65,-3.7]
];

const RED = '#e8281e';
const BLUE = '#1c1ce0';
const AXIS = '#3a3a3a';
const cyan = a => `rgba(24, 188, 190, ${a})`;
const orange = a => `rgba(255, 168, 20, ${a})`;

const PLOT_W = 796, PLOT_H = 684;
const LEFT_PAD = 160, TOP_PAD = 12, RIGHT_PAD = 8, BOTTOM_PAD = 80;

// bundle: [cyan width, cyan alpha, orange width, orange alpha] for the galaxy lines of each panel
const panels = [
  { left: 207,  top: 15,  cyan: topLeftCyan,     orange: topLeftOrange,     red: topLeftRed,     blue: topLeftBlue,     redErr: null,              blueErr: topLeftBlueErr,     yLabels: true,  xLabels: false, bundle: [10, 0.36, 4, 0.4] },
  { left: 1062, top: 15,  cyan: topMidCyan,      orange: topMidOrange,      red: topMidRed,      blue: topMidBlue,      redErr: null,              blueErr: topMidBlueErr,      yLabels: false, xLabels: false, bundle: [10, 0.36, 6, 0.36] },
  { left: 1914, top: 15,  cyan: topRightCyan,    orange: topRightOrange,    red: topRightRed,    blue: topRightBlue,    redErr: null,              blueErr: null,               yLabels: false, xLabels: false, bundle: [10, 0.36, 10, 0.4] },
  { left: 207,  top: 861, cyan: bottomLeftCyan,  orange: bottomLeftOrange,  red: bottomLeftRed,  blue: bottomLeftBlue,  redErr: bottomLeftRedErr,  blueErr: bottomLeftBlueErr,  yLabels: true,  xLabels: true,  bundle: [7, 0.32, 4, 0.4] },
  { left: 1062, top: 861, cyan: bottomMidCyan,   orange: bottomMidOrange,   red: bottomMidRed,   blue: bottomMidBlue,   redErr: bottomMidRedErr,   blueErr: bottomMidBlueErr,   yLabels: false, xLabels: true,  bundle: [7, 0.32, 5, 0.36] },
  { left: 1914, top: 861, cyan: bottomRightCyan, orange: bottomRightOrange, red: bottomRightRed, blue: bottomRightBlue, redErr: bottomRightRedErr, blueErr: bottomRightBlueErr, yLabels: false, xLabels: true,  bundle: [7, 0.32, 7, 0.36] }
];

function profile(values, color, width, extra) {
  return Object.assign({
    data: values.map((v, i) => ({ x: radii[i], y: v })),
    borderColor: color,
    borderWidth: width,
    pointRadius: 0,
    fill: false,
    tension: 0.2
  }, extra || {});
}

// box around the plotting area
const frame = {
  id: 'frame',
  afterDraw(chart) {
    const { ctx, chartArea: a } = chart;
    ctx.save();
    ctx.strokeStyle = AXIS;
    ctx.lineWidth = 3;
    ctx.strokeRect(a.left, a.top, a.right - a.left, a.bottom - a.top);
    ctx.restore();
  }
};

// vertical error bars on the red / blue profiles
const errorBars = {
  id: 'errorBars',
  afterDatasetsDraw(chart, args, opts) {
    const { ctx, chartArea: a, scales: { x, y } } = chart;
    ctx.save();
    ctx.beginPath();
    ctx.rect(a.left, a.top, a.right - a.left, a.bottom - a.top);
    ctx.clip();
    ctx.lineWidth = 5;
    (opts.sets || []).forEach(set => {
      if (!set.err) return;
      ctx.strokeStyle = set.color;
      set.values.forEach((v, i) => {
        const e = set.err[i];
        if (!e) return;
        const px = x.getPixelForValue(radii[i]);
        ctx.beginPath();
        ctx.moveTo(px, y.getPixelForValue(v - e));
        ctx.lineTo(px, y.getPixelForValue(v + e));
        ctx.stroke();
      });
    });
    ctx.restore();
  }
};

const minus = v => (v < 0 ? '\u2212' : '') + Math.abs(v).toFixed(1);

panels.forEach(p => {
  const canvas = document.createElement('canvas');
  canvas.width = LEFT_PAD + PLOT_W + RIGHT_PAD;
  canvas.height = TOP_PAD + PLOT_H + BOTTOM_PAD;
  canvas.style.left = (p.left - LEFT_PAD) + 'px';
  canvas.style.top = (p.top - TOP_PAD) + 'px';
  document.body.appendChild(canvas);

  const [cw, ca, ow, oa] = p.bundle;
  // first dataset ends up on top; the galaxy bundles are drawn thick so they read as a band
  const datasets = [
    profile(p.blue, BLUE, 7, { tension: 0.1 }),
    profile(p.red, RED, 7, { tension: 0.1 }),
    profile(meanProfile, '#000', 6, { borderDash: [20, 11], tension: 0 })
  ];
  p.orange.forEach(o => datasets.push(profile(o, orange(oa), ow)));
  p.cyan.forEach(c => datasets.push(profile(c, cyan(ca), cw)));

  new Chart(canvas, {
    type: 'line',
    data: { datasets },
    plugins: [frame, errorBars],
    options: {
      responsive: false,
      animation: false,
      devicePixelRatio: 1,
      events: [],
      layout: { padding: { top: TOP_PAD, right: RIGHT_PAD, left: 0, bottom: 0 } },
      plugins: {
        legend: { display: false },
        tooltip: { enabled: false },
        errorBars: {
          sets: [
            { values: p.blue, err: p.blueErr, color: BLUE },
            { values: p.red, err: p.redErr, color: RED }
          ]
        }
      },
      scales: {
        x: {
          type: 'linear',
          min: -0.1,
          max: 1.6,
          afterBuildTicks: s => { s.ticks = xTicks.map(v => ({ value: v })); },
          afterFit: s => { s.height = BOTTOM_PAD; },
          border: { display: false },
          grid: { drawOnChartArea: false, drawTicks: true, tickLength: 11, tickWidth: 3, tickColor: AXIS },
          ticks: {
            autoSkip: false,
            maxRotation: 0,
            padding: 10,
            color: '#4a4a4a',
            font: { family: 'DejaVu Serif', size: 26 },
            callback: v => (p.xLabels ? v.toFixed(1) : '')
          }
        },
        y: {
          type: 'linear',
          min: -6,
          max: 0,
          afterBuildTicks: s => { s.ticks = yTicks.map(v => ({ value: v })); },
          afterFit: s => { s.width = LEFT_PAD; },
          border: { display: false },
          grid: { drawOnChartArea: false, drawTicks: true, tickLength: 11, tickWidth: 3, tickColor: AXIS },
          ticks: {
            autoSkip: false,
            padding: 7,
            color: '#4a4a4a',
            font: { family: 'DejaVu Serif', size: 28 },
            callback: v => (p.yLabels ? minus(v) : '')
          }
        }
      }
    }
  });
});
</script>
</body>
</html>
